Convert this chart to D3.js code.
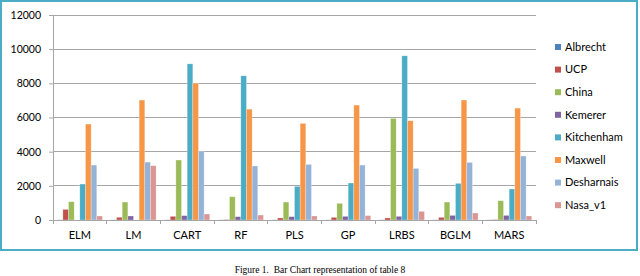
<!DOCTYPE html>
<html>
<head>
<meta charset="utf-8">
<script src="https://cdn.jsdelivr.net/npm/d3@7"></script>
<style>
  body { margin: 0; background: #fff; }
  svg { display: block; }
</style>
</head>
<body>
<div id="chart"></div>
<script>

// ---------------- data ----------------
var categories = ["ELM", "LM", "CART", "RF", "PLS", "GP", "LRBS", "BGLM", "MARS"]
var seriesNames = ["Albrecht", "UCP", "China", "Kemerer", "Kitchenham", "Maxwell", "Desharnais", "Nasa_v1"]

var albrecht   = [10, 10, 10, 10, 10, 10, 10, 10, 10]
var ucp        = [620, 160, 215, 25, 120, 155, 120, 155, 25]
var china      = [1070, 1050, 3510, 1360, 1050, 975, 5945, 1050, 1130]
var kemerer    = [0, 235, 255, 195, 195, 215, 215, 270, 270]
var kitchenham = [2105, 0, 9140, 8440, 1970, 2165, 9610, 2145, 1815]
var maxwell    = [5615, 7020, 8010, 6490, 5655, 6725, 5810, 7020, 6550]
var desharnais = [3215, 3390, 4035, 3160, 3255, 3215, 3020, 3370, 3745]
var nasa       = [235, 3180, 350, 290, 235, 255, 505, 410, 235]

var yTicks = [0, 2000, 4000, 6000, 8000, 10000, 12000]

var values = [albrecht, ucp, china, kemerer, kitchenham, maxwell, desharnais, nasa]
var colors = ["#4f81bd", "#c0504d", "#9bbb59", "#8064a2", "#4bacc6", "#f79646", "#95b3d7", "#d99694"]

// ---------------- layout ----------------
var svg_width = 640
var svg_height = 276

const margin = { top: 15, right: 104, bottom: 56, left: 53 }
var width = svg_width - margin.left - margin.right
var height = svg_height - margin.top - margin.bottom

var font = "Lato, 'Open Sans', sans-serif"

const root = d3.select("#chart").append("svg")
    .attr("width", svg_width)
    .attr("height", svg_height)

// frame round the chart
root.append("rect")
    .attr("x", 1).attr("y", 1)
    .attr("width", 636).attr("height", 249)
    .attr("fill", "none")
    .attr("stroke", "#4bacc6")
    .attr("stroke-width", 2)

const svg = root.append("g")
    .attr("transform", `translate(${margin.left}, ${margin.top})`)

// scales
const x = d3.scaleBand()
    .domain(categories)
    .range([0, width])

// gap width 150% -> 0.75 of a bar on each side
const inner = d3.scaleBand()
    .domain(seriesNames)
    .range([0, x.bandwidth()])
    .paddingOuter(0.75)
    .paddingInner(0)

const y = d3.scaleLinear()
    .domain([0, 12000])
    .range([height, 0])

// gridlines
svg.append("g")
    .selectAll("line")
    .data(yTicks.slice(1))
    .join("line")
      .attr("x1", 0).attr("x2", width)
      .attr("y1", d => y(d)).attr("y2", d => y(d))
      .attr("stroke", "#a6a6a6")
      .attr("stroke-width", 1)
      .attr("shape-rendering", "crispEdges")

// y axis
const yAxis = svg.append("g")
    .call(d3.axisLeft(y).tickValues(yTicks).tickSize(4).tickPadding(8).tickFormat(d3.format("d")))
yAxis.select(".domain").attr("stroke", "#a6a6a6")
yAxis.selectAll(".tick line").attr("stroke", "#a6a6a6")
yAxis.selectAll("text")
    .attr("font-family", font)
    .attr("font-size", 10.5)
    .attr("fill", "#000")

// bars
const groups = svg.append("g")
    .selectAll("g")
    .data(values)
    .join("g")
      .attr("fill", (d, i) => colors[i])

groups.selectAll("rect")
    .data((d, i) => d.map((v, j) => ({ series: seriesNames[i], cat: categories[j], value: v })))
    .join("rect")
      .attr("x", d => x(d.cat) + inner(d.series))
      .attr("y", d => y(d.value))
      .attr("width", inner.bandwidth())
      .attr("height", d => height - y(d.value))
      .attr("stroke", "rgba(255,255,255,0.45)")
      .attr("stroke-width", 0.6)

// x axis
const xAxis = svg.append("g")
    .attr("transform", `translate(0, ${height})`)
    .call(d3.axisBottom(x).tickSize(0).tickPadding(11))
xAxis.select(".domain").attr("stroke", "#a6a6a6")
xAxis.selectAll("text")
    .attr("font-family", font)
    .attr("font-size", 11)
    .attr("fill", "#000")

// category boundary ticks
svg.append("g")
    .selectAll("line")
    .data(categories.map(c => x(c)).concat([width]))
    .join("line")
      .attr("x1", d => d).attr("x2", d => d)
      .attr("y1", height).attr("y2", height + 4)
      .attr("stroke", "#a6a6a6")
      .attr("shape-rendering", "crispEdges")

// legend
const legend = root.append("g")
    .attr("transform", "translate(555, 47)")
    .selectAll("g")
    .data(seriesNames)
    .join("g")
      .attr("transform", (d, i) => `translate(0, ${i * 22.6})`)

legend.append("rect")
    .attr("x", 0).attr("y", -3)
    .attr("width", 6).attr("height", 6)
    .attr("fill", (d, i) => colors[i])

legend.append("text")
    .attr("x", 10)
    .attr("dy", "0.35em")
    .attr("font-family", font)
    .attr("font-size", 11)
    .text(d => d)

// caption
root.append("text")
    .attr("x", 320)
    .attr("y", 273)
    .attr("text-anchor", "middle")
    .attr("font-family", "'Liberation Serif', 'Times New Roman', serif")
    .attr("font-size", 9.5)
    .attr("xml:space", "preserve")
    .text("Figure 1.  Bar Chart representation of table 8")

</script>
</body>
</html>
